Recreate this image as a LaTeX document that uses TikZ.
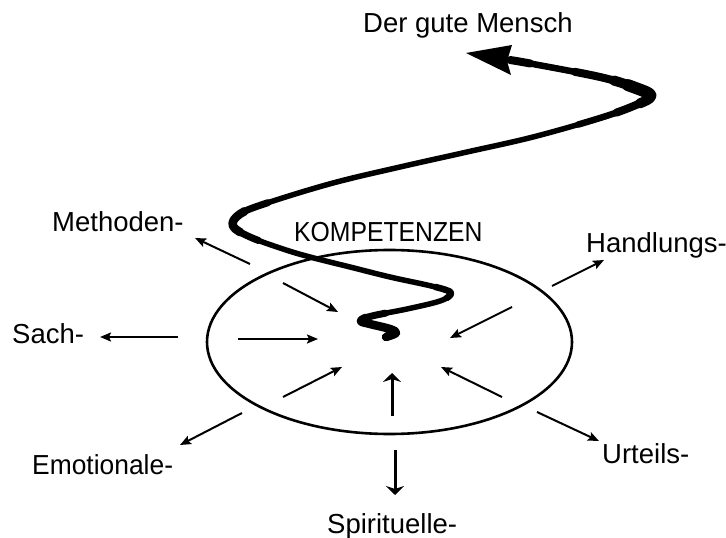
\documentclass[tikz,border=0pt]{standalone}
\usepackage{fontspec}
\setmainfont{Liberation Sans}
\usetikzlibrary{arrows.meta}
\begin{document}
\begin{tikzpicture}[x=1bp,y=-1bp,
  lbl/.style={anchor=base west, inner sep=0pt, font=\fontsize{27.5bp}{30bp}\selectfont},
  thinarrow/.style={line width=2bp, -{Stealth[length=11bp,width=9bp,inset=2bp]}},
  thickarrow/.style={line width=3bp, -{Stealth[length=9bp,width=18bp,inset=3bp]}},
  spiral/.style={line cap=round, line join=round}]
\useasboundingbox (0,0) rectangle (726,538);

% ellipse
\draw[line width=2.6bp] (389.5,342) ellipse [x radius=182.5, y radius=92];

% labels
\node[lbl] (der) at (363,33) {Der gute Mensch};
\node[lbl] (komp) at (294,242) {\scalebox{0.9}[1]{KOMPETENZEN}};
\node[lbl] (meth) at (52,232) {Methoden-};
\node[lbl] (sach) at (12,343) {Sach-};
\node[lbl] (emo) at (32,474) {\scalebox{0.96}[1]{Emotionale-}};
\node[lbl] (hand) at (586,253) {Handlungs-};
\node[lbl] (urt) at (602,463) {Urteils-};
\node[lbl] (spi) at (327,533) {Spirituelle-};

% outer arrows
\coordinate (mA) at (250,264); \coordinate (mB) at (195,238);
\coordinate (sA) at (178,337); \coordinate (sB) at (100,337);
\coordinate (eA) at (242,413); \coordinate (eB) at (180,445);
\coordinate (hA) at (552,286); \coordinate (hB) at (604,260);
\coordinate (uA) at (537,412); \coordinate (uB) at (599,441);
\coordinate (pA) at (395,450); \coordinate (pB) at (395,495);
\draw[thinarrow] (mA) -- (mB);
\draw[thinarrow] (sA) -- (sB);
\draw[thinarrow] (eA) -- (eB);
\draw[thinarrow] (hA) -- (hB);
\draw[thinarrow] (uA) -- (uB);
\draw[thickarrow] (pA) -- (pB);

% inner arrows
\coordinate (i1A) at (283,283); \coordinate (i1B) at (338,312);
\coordinate (i2A) at (238,339); \coordinate (i2B) at (318,339);
\coordinate (i3A) at (283,397); \coordinate (i3B) at (342,367);
\coordinate (i4A) at (392,416); \coordinate (i4B) at (392,373);
\coordinate (i5A) at (502,397); \coordinate (i5B) at (441,367);
\coordinate (i6A) at (512,307); \coordinate (i6B) at (450,338);
\draw[thinarrow] (i1A) -- (i1B);
\draw[thinarrow] (i2A) -- (i2B);
\draw[thinarrow] (i3A) -- (i3B);
\draw[thickarrow] (i4A) -- (i4B);
\draw[thinarrow] (i5A) -- (i5B);
\draw[thinarrow] (i6A) -- (i6B);

% spiral: base stroke plus thicker dashed layers along the same path
\draw[spiral, line width=5.5bp] plot[smooth, tension=0.6] coordinates {
 (386,337) (396,333) (390,329) (370,324) (361,321) (372,316) (407,309)
 (440,301) (451,294) (446,290) (427,285) (390,277) (350,267) (310,257)
 (283,249) (250,237) (233,226) (240,214) (267,203) (333,183) (400,167)
 (467,152) (533,137) (600,118) (636,105) (651,96) (633,87) (600,77)
 (533,64) (510,60)};
\foreach \w/\S/\L in {8.5/0/55, 7/0/75, 6.5/138/24, 7/345/75, 8.5/365/30,
                      6.5/740/300, 8/780/120, 8/945/80, 10/805/55, 12/820/25} {
  \pgfmathsetmacro\ph{\L+3000-\S}
  \draw[spiral, line width=\w bp, dash pattern=on \L bp off 3000bp, dash phase=\ph bp]
   plot[smooth, tension=0.6] coordinates {
 (386,337) (396,333) (390,329) (370,324) (361,321) (372,316) (407,309)
 (440,301) (451,294) (446,290) (427,285) (390,277) (350,267) (310,257)
 (283,249) (250,237) (233,226) (240,214) (267,203) (333,183) (400,167)
 (467,152) (533,137) (600,118) (636,105) (651,96) (633,87) (600,77)
 (533,64) (510,60)};
}
% arrowhead
\coordinate (tip) at (466,53);
\fill (tip) -- (512,45) -- (507,61) -- (511,75) -- cycle;
\end{tikzpicture}
\end{document}
